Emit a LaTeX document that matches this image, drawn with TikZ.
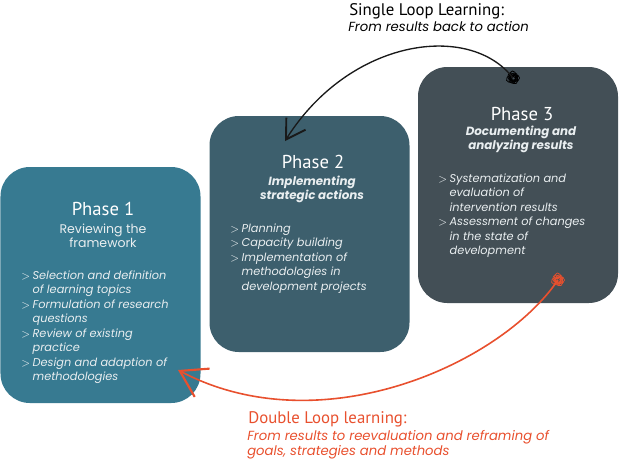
\documentclass[tikz,border=0pt]{standalone}
\usepackage{fontspec}
\setmainfont{Poppins}
\newfontfamily\handfont{PT Sans}
\usetikzlibrary{positioning,arrows.meta}

\definecolor{phaseA}{HTML}{377A91}
\definecolor{phaseB}{HTML}{3D5F6D}
\definecolor{phaseC}{HTML}{434F56}
\definecolor{loopred}{HTML}{E8502E}
\definecolor{bodytext}{HTML}{E9EEF0}

\newcommand\stepitem{$>$}

\tikzset{
    phasebox/.style = {rounded corners=22pt, minimum width=150pt, minimum height=177pt, inner sep=0pt},
    phasetitle/.style = {font=\handfont\fontsize{14}{16}\selectfont, text=white, inner sep=0pt, anchor=base},
    phasesub/.style = {font=\fontsize{9.4}{10.5}\selectfont, text=bodytext, inner sep=0pt, anchor=base},
    strongsub/.style = {phasesub, font=\bfseries\itshape\fontsize{8.9}{10.9}\selectfont},
    steps/.style = {font=\itshape\fontsize{8.5}{10.9}\selectfont, text=bodytext, inner sep=0pt, anchor=base west},
    looptitle/.style = {font=\handfont\fontsize{12.6}{14}\selectfont, inner sep=0pt, anchor=base west},
    loopnote/.style = {font=\itshape\fontsize{9.9}{11.6}\selectfont, inner sep=0pt, anchor=base west},
    scribble/.style = {circle, inner sep=0pt, minimum size=10pt},
}

\begin{document}
\begin{tikzpicture}[x=0.75pt, y=-0.75pt]
    \useasboundingbox (0,0) rectangle (619,462);

    % the three phases
    \node[phasebox, fill=phaseA] (p1) at (100.5,285) {};
    \node[phasebox, fill=phaseB] (p2) at (309.5,234) {};
    \node[phasebox, fill=phaseC] (p3) at (518,185) {};

    % phase 1
    \node[phasetitle] (t1) at (103,215) {Phase 1};
    \node[phasesub] (s1) at (103,233) {\begin{tabular}[t]{@{}c@{}}Reviewing the\\ framework\end{tabular}};
    \node[steps] (l1) at (21,279) {\begin{tabular}[t]{@{}p{8.5pt}@{}l@{}}
        \stepitem & Selection and definition\\
                  & of learning topics\\
        \stepitem & Formulation of research\\
                  & questions\\
        \stepitem & Review of existing\\
                  & practice\\
        \stepitem & Design and adaption of\\
                  & methodologies
    \end{tabular}};

    % phase 2
    \node[phasetitle] (t2) at (313,168) {Phase 2};
    \node[strongsub] (s2) at (312,185)
        {\begin{tabular}[t]{@{}c@{}}Implementing\\ strategic actions\end{tabular}};
    \node[steps] (l2) at (230,232) {\begin{tabular}[t]{@{}p{8.5pt}@{}l@{}}
        \stepitem & Planning\\
        \stepitem & Capacity building\\
        \stepitem & Implementation of\\
                  & methodologies in\\
                  & development projects
    \end{tabular}};

    % phase 3
    \node[phasetitle] (t3) at (522,120) {Phase 3};
    \node[strongsub] (s3) at (521,135)
        {\begin{tabular}[t]{@{}c@{}}Documenting and\\ analyzing results\end{tabular}};
    \node[steps] (l3) at (438,182) {\begin{tabular}[t]{@{}p{8.5pt}@{}l@{}}
        \stepitem & Systematization and\\
                  & evaluation of\\
                  & intervention results\\
        \stepitem & Assessment of changes\\
                  & in the state of\\
                  & development
    \end{tabular}};

    % single loop
    \node[scribble] (k3) at (513,78) {};
    \coordinate (in2) at (285,141);
    \foreach \a/\r in {0/3.6,50/2.8,95/4.0,140/3.1,200/3.8,250/2.6,300/3.4,340/2.2}
        \draw[black, line width=0.6pt, rotate around={\a:(k3.center)}] (k3.center) ++(1.3pt,0) ellipse (\r pt and 2.7pt);
    \draw[black!90, line width=1pt, -{Straight Barb[length=14pt, width=17pt, line width=1.4pt]}]
        (k3.center) .. controls (470,22) and (350,38) .. (in2);
    \node[looptitle] (sl) at (349,15) {Single Loop Learning:};
    \node[loopnote] (sn) at (348,31) {From results back to action};

    % double loop
    \node[scribble] (k1) at (558,280) {};
    \coordinate (in1) at (178,370);
    \foreach \a/\r in {0/3.6,50/2.8,95/4.0,140/3.1,200/3.8,250/2.6,300/3.4,340/2.2}
        \draw[loopred, line width=0.5pt, rotate around={\a:(k1.center)}] (k1.center) ++(1.3pt,0) ellipse (\r pt and 2.7pt);
    \draw[loopred, line width=1.2pt, -{Straight Barb[length=19pt, width=24pt, line width=1.6pt]}]
        (k1.center) .. controls (500,365) and (320,445) .. (in1);
    \node[looptitle, text=loopred] (dl) at (248,423) {Double Loop learning:};
    \node[loopnote, text=loopred] (dn) at (247,440)
        {\begin{tabular}[t]{@{}l@{}}From results to reevaluation and reframing of\\ goals, strategies and methods\end{tabular}};
\end{tikzpicture}
\end{document}
